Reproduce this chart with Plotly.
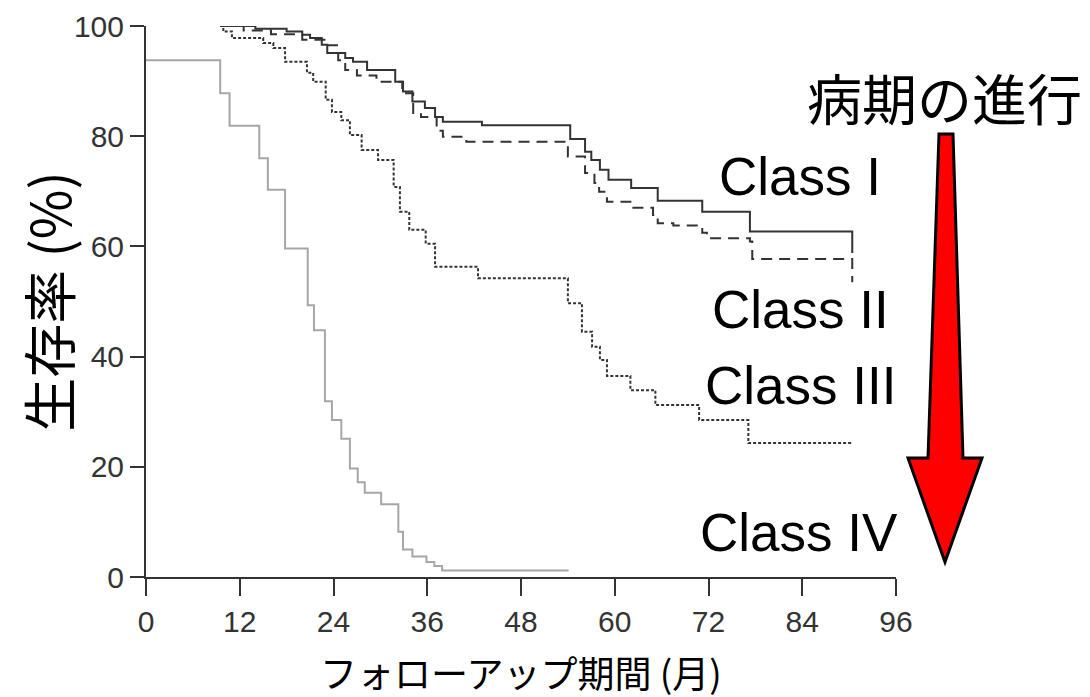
import plotly.graph_objects as go

# ---- data (months, survival %) ----
class1_x = [9.5, 14.0, 18.0, 20.0, 21.0, 22.5, 23.2, 25.5, 26.5, 28.3, 31.9, 32.9, 34.1, 35.7, 37.0, 38.0, 43.0,
            54.3, 56.2, 57.0, 58.1, 59.2, 62.1, 65.5, 71.2, 77.3, 90.4, 90.4]
class1_y = [100.0, 99.5, 99.0, 98.4, 97.8, 96.6, 95.1, 94.2, 93.5, 92.0, 89.9, 88.1, 86.3, 85.1, 83.5, 82.6, 82.0,
            79.5, 77.2, 75.7, 73.9, 72.1, 70.6, 68.3, 66.3, 62.7, 62.7, 58.8]

class2_x = [9.5, 12.5, 16.0, 20.0, 23.0, 24.6, 25.5, 27.0, 29.5, 32.8, 34.2, 35.2, 37.2, 38.0, 41.0,
            54.0, 56.2, 57.4, 58.0, 59.0, 62.0, 64.9, 65.5, 67.5, 71.2, 71.8, 77.3, 77.6, 90.4, 90.4]
class2_y = [100.0, 99.2, 98.5, 97.5, 96.5, 93.8, 92.0, 91.0, 89.9, 87.8, 84.2, 83.5, 81.0, 79.9, 79.0,
            76.3, 73.3, 71.5, 69.9, 68.1, 67.0, 65.7, 64.2, 63.8, 62.5, 61.5, 60.9, 57.7, 57.7, 53.5]

class3_x = [9.5, 9.9, 11.0, 15.0, 16.3, 17.8, 20.6, 21.4, 23.0, 23.8, 25.0, 26.1, 27.6, 29.7, 31.7, 32.5, 33.7,
            35.8, 37.0, 42.5, 54.0, 55.8, 57.1, 58.1, 59.0, 62.0, 65.2, 70.8, 77.1, 90.4]
class3_y = [100.0, 99.0, 97.8, 96.9, 96.0, 93.5, 91.5, 89.9, 86.6, 84.4, 82.9, 80.2, 77.5, 75.7, 70.8, 66.3, 63.0,
            60.5, 56.3, 54.2, 49.7, 44.5, 41.8, 39.4, 36.5, 33.9, 31.2, 28.5, 24.3, 24.3]

class4_x = [0.0, 9.5, 10.7, 14.5, 15.6, 17.8, 20.7, 21.5, 22.9, 23.8, 25.0, 26.1, 27.1, 28.0, 30.1, 32.3,
            32.9, 34.1, 35.9, 36.9, 37.9, 54.1]
class4_y = [93.8, 87.8, 81.9, 76.0, 70.3, 59.6, 49.3, 44.8, 31.9, 28.5, 25.1, 19.7, 17.2, 15.3, 13.2, 8.2,
            5.0, 3.7, 2.7, 2.0, 1.2, 1.2]

x_ticks = [0, 12, 24, 36, 48, 60, 72, 84, 96]
y_ticks = [0, 20, 40, 60, 80, 100]

class_labels = ["Class I", "Class II", "Class III", "Class IV"]

fig = go.Figure()

LINE = "#333333"
fig.add_trace(go.Scatter(x=class4_x, y=class4_y, mode="lines", line=dict(color="#a6a6a6", width=2, shape="hv")))
fig.add_trace(go.Scatter(x=class3_x, y=class3_y, mode="lines", line=dict(color=LINE, width=2, shape="hv", dash="3px,2px")))
fig.add_trace(go.Scatter(x=class2_x, y=class2_y, mode="lines", line=dict(color=LINE, width=2, shape="hv", dash="11px,7px")))
fig.add_trace(go.Scatter(x=class1_x, y=class1_y, mode="lines", line=dict(color=LINE, width=2, shape="hv")))

TICKFONT = dict(family="Liberation Sans, Arial, sans-serif", size=30, color="#333333")
JP = "Noto Sans CJK JP, sans-serif"
EN = "Liberation Sans, Arial, sans-serif"

# page body has an 8px offset; margins compensate so the plot area sits at x 146-896, y 26-577
fig.update_layout(
    width=1090, height=697,
    margin=dict(l=138, r=202, t=18, b=128, autoexpand=False),
    paper_bgcolor="white", plot_bgcolor="white",
    showlegend=False,
    xaxis=dict(range=[0, 96], tickvals=x_ticks, ticktext=[str(v) for v in x_ticks], automargin=False,
               showgrid=False, zeroline=False, showline=True, linecolor=LINE, linewidth=2,
               ticks="outside", ticklen=17, tickwidth=2, tickcolor=LINE, tickfont=TICKFONT),
    yaxis=dict(range=[0, 100], tickvals=y_ticks, ticktext=[str(v) for v in y_ticks], automargin=False,
               showgrid=False, zeroline=False, showline=True, linecolor=LINE, linewidth=2,
               ticks="outside", ticklen=14, tickwidth=2, tickcolor=LINE, tickfont=TICKFONT,
               title=dict(text="生存率 (%)", font=dict(family=JP, size=54, color="black"), standoff=13)),
)

fig.add_annotation(text="フォローアップ期間 (月)", xref="paper", yref="paper", x=0.5, y=-0.172,
                   showarrow=False, font=dict(family=JP, size=37, color="black"),
                   xanchor="center", yanchor="middle")

# class labels
label_pos = [(73.1, 72.6), (72.2, 48.5), (71.3, 34.8), (70.7, 8.0)]
for txt, (lx, ly) in zip(class_labels, label_pos):
    fig.add_annotation(text=txt, x=lx, y=ly, xref="x", yref="y", showarrow=False,
                       xanchor="left", yanchor="middle", font=dict(family=EN, size=53, color="black"))

fig.add_annotation(text="病期の進行", x=84.3, y=87.3, xref="x", yref="y", showarrow=False,
                   xanchor="left", yanchor="middle", font=dict(family=JP, size=55, color="black"))

# red arrow (paper coordinates)
def px_to_paper(px, py):
    return (px - 146) / 750.0, (577 - py) / 551.0

pts = [(939, 134), (953, 134), (963, 458), (982, 458), (945, 562), (908, 458), (928, 458)]
pp = [px_to_paper(a, b) for a, b in pts]
path = "M " + " L ".join(f"{x:.5f},{y:.5f}" for x, y in pp) + " Z"
fig.add_shape(type="path", path=path, xref="paper", yref="paper",
              fillcolor="#ff0000", line=dict(color="black", width=3))

fig.write_html("out.html")
